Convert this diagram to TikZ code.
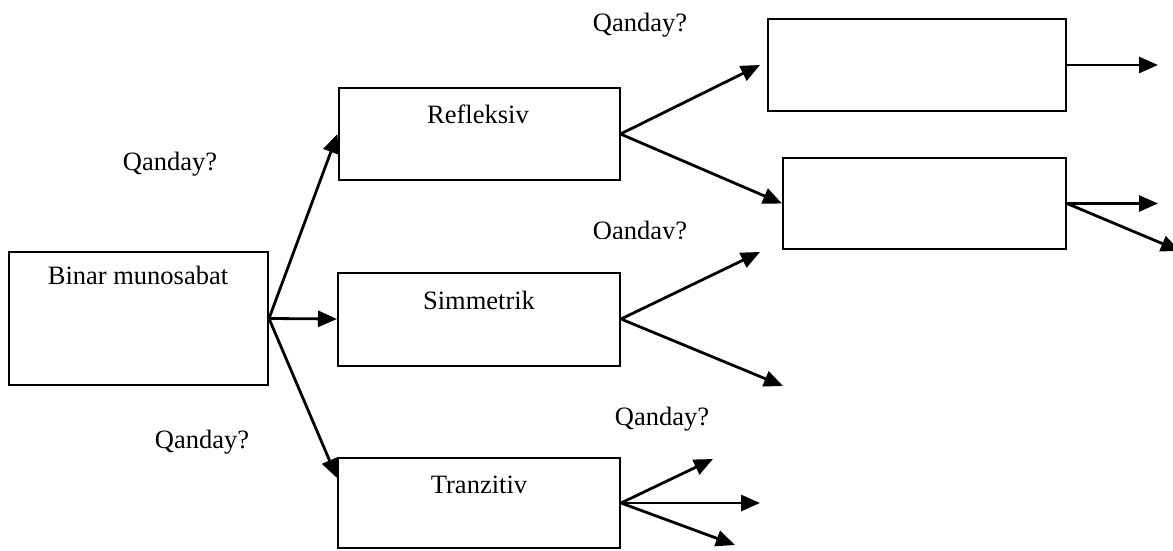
\documentclass[tikz,border=0pt]{standalone}
\usepackage{fontspec}
\setmainfont{Liberation Serif}
\usetikzlibrary{arrows.meta}
\begin{document}
\begin{tikzpicture}[x=1pt,y=-1pt,
  box/.style={draw=black,line width=2pt,inner sep=0pt},
  arr/.style={line width=2.8pt,-{Triangle[length=19pt,width=16pt]}},
  txt/.style={anchor=base,inner sep=0pt,font=\fontsize{26.5}{31}\selectfont}]
\useasboundingbox (0,0) rectangle (1173,551);
% boxes
\node[box,minimum width=259pt,minimum height=133pt] (bin) at (138.5,318.5) {};
\node[box,minimum width=281pt,minimum height=92pt] (refl) at (479,134) {};
\node[box,minimum width=282pt,minimum height=93pt] (sim) at (479,319) {};
\node[box,minimum width=282pt,minimum height=90pt] (tran) at (479,503) {};
\node[box,minimum width=298pt,minimum height=92pt] (b1) at (917,65) {};
\node[box,minimum width=283pt,minimum height=91pt] (b2) at (924.5,203.5) {};
% box titles
\node[txt] (binT) at (138,284) {Binar munosabat};
\node[txt] (reflT) at (478,123) {Refleksiv};
\node[txt] (simT) at (479,309) {Simmetrik};
\node[txt] (tranT) at (479,493) {Tranzitiv};
% question labels
\node[txt] (q1) at (640,32) {Qanday?};
\node[txt] (q2) at (170,170) {Qanday?};
\node[txt] (q3) at (202,448) {Qanday?};
\node[txt] (q4) at (662,425) {Qanday?};
\begin{scope}
  \clip (560,200) rectangle (720,238);
  \node[txt] (q5) at (640,239) {Qanday?};
\end{scope}
% free arrow ends
\coordinate (binTr) at (337,478);
\coordinate (r1) at (760,65);
\coordinate (s1) at (760,252);
\coordinate (s2) at (783,386);
\coordinate (t1) at (713,459);
\coordinate (t2) at (760,503);
\coordinate (t3) at (735,545);
\coordinate (e1) at (1158,65);
\coordinate (e2) at (1158,203.5);
\coordinate (e3) at (1180,251);
% connectors
\draw[arr] (bin.east) -- (refl.west);
\draw[arr] (bin.east) -- (sim.west);
\draw[arr] (bin.east) -- (binTr);
\draw[arr] (refl.east) -- (r1);
\draw[arr] (refl.east) -- (b2.west);
\draw[arr] (sim.east) -- (s1);
\draw[arr] (sim.east) -- (s2);
\draw[arr] (tran.east) -- (t1);
\draw[arr] (tran.east) -- (t2);
\draw[arr] (tran.east) -- (t3);
\draw[arr] (b1.east) -- (e1);
\draw[arr] (b2.east) -- (e2);
\draw[arr] (b2.east) -- (e3);
\end{tikzpicture}
\end{document}
